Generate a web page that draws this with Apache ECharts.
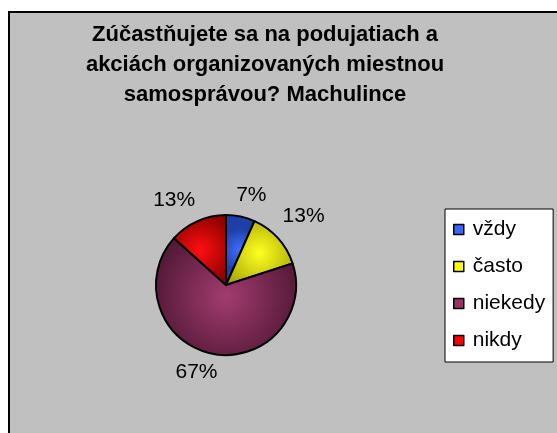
<!DOCTYPE html>
<html>
<head>
<meta charset="utf-8">
<script src="https://cdn.jsdelivr.net/npm/echarts@6/dist/echarts.min.js"></script>
<style>
  html, body { margin: 0; padding: 0; background: #fff; }
  #chart { width: 557px; height: 433px; }
</style>
</head>
<body>
<div id="chart"></div>
<script>
var titleLines = ['Zúčastňujete sa na podujatiach a', 'akciách organizovaných miestnou', 'samosprávou? Machulince'];
var categories = ['vždy', 'často', 'niekedy', 'nikdy'];
var values = [1, 2, 10, 2];
var lightColors = ['#4070ff', '#ffff20', '#a23c70', '#ff1010'];
var darkColors = ['#1f3fa8', '#9a9a00', '#4a1530', '#8a0000'];
var legendColors = ['#3366ff', '#ffff00', '#993366', '#ff0000'];
// label placement tweaks (line length, distance) per slice
var labelLen = [22, 33, 19, 23];
var labelDist = [-9, -20, -10, -7];

var chart = echarts.init(document.getElementById('chart'));

var pieData = categories.map(function (name, i) {
    return {
        name: name,
        value: values[i],
        itemStyle: {
            color: new echarts.graphic.RadialGradient(0.5, 0.5, 0.7, [
                { offset: 0, color: lightColors[i] },
                { offset: 1, color: darkColors[i] }
            ])
        },
        label: { distanceToLabelLine: labelDist[i] },
        labelLine: { length: labelLen[i], length2: 0 }
    };
});

var graphics = [{
    type: 'rect',
    shape: { x: 9, y: 12, width: 600, height: 500 },
    style: { fill: '#c0c0c0', stroke: '#000', lineWidth: 2 },
    z: -10
}];
titleLines.forEach(function (t, i) {
    graphics.push({
        type: 'text',
        x: 265,
        y: 35 + i * 30,
        style: {
            text: t,
            fill: '#000',
            font: 'bold 22px "Liberation Sans", Arial, sans-serif',
            textAlign: 'center',
            textVerticalAlign: 'middle'
        }
    });
});

var option = {
    animation: false,
    graphic: graphics,
    legend: {
        orient: 'vertical',
        left: 445,
        top: 209,
        padding: [10, 8, 11, 8],
        itemGap: 16,
        itemWidth: 10,
        itemHeight: 10,
        backgroundColor: '#fff',
        borderColor: '#000',
        borderWidth: 1,
        icon: 'rect',
        textStyle: {
            fontFamily: '"Liberation Sans", Arial, sans-serif',
            fontSize: 21,
            lineHeight: 21,
            color: '#000',
            padding: [0, 0, 0, 4]
        },
        data: categories.map(function (name, i) {
            return {
                name: name,
                itemStyle: { color: legendColors[i], borderColor: '#000', borderWidth: 1.5 }
            };
        })
    },
    series: [{
        type: 'pie',
        center: [226, 285],
        radius: 70,
        startAngle: 90,
        clockwise: true,
        percentPrecision: 0,
        avoidLabelOverlap: false,
        itemStyle: { borderColor: '#000', borderWidth: 2 },
        label: {
            show: true,
            position: 'outside',
            formatter: '{d}%',
            fontFamily: '"Liberation Sans", Arial, sans-serif',
            fontSize: 21,
            color: '#000'
        },
        labelLine: { show: false },
        emphasis: { disabled: true },
        data: pieData
    }]
};
chart.setOption(option);
</script>
</body>
</html>
